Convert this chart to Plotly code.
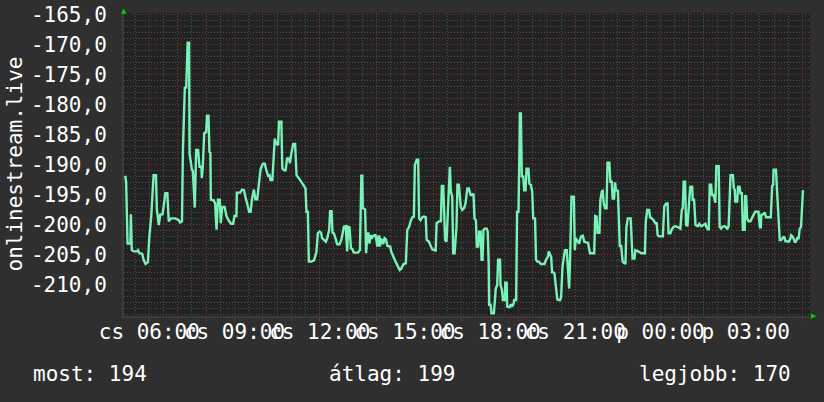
import plotly.graph_objects as go

# time of each sample, minutes after Thursday 00:00
minutes = [
    309, 311, 314, 320, 321, 323, 327, 334, 336, 339, 345, 348, 352, 357, 360, 364, 369, 374, 376, 380,
    383, 388, 394, 398, 401, 406, 415, 422, 425, 429, 431, 435, 438, 441, 444, 445, 450, 452, 456, 459,
    463, 466, 470, 471, 473, 476, 480, 482, 485, 487, 489, 490, 496, 499, 502, 505, 509, 511, 514, 519,
    523, 528, 533, 537, 540, 544, 545, 552, 556, 560, 563, 567, 571, 574, 577, 581, 584, 588, 591, 595,
    600, 604, 607, 611, 614, 616, 620, 622, 625, 628, 632, 634, 639, 641, 645, 648, 651, 655, 657, 660,
    664, 668, 671, 676, 681, 686, 690, 692, 695, 697, 702, 708, 711, 713, 716, 720, 723, 725, 729, 733,
    736, 740, 742, 745, 747, 750, 754, 757, 762, 766, 771, 775, 778, 780, 783, 786, 789, 792, 797, 801,
    805, 807, 808, 810, 811, 816, 818, 821, 823, 825, 828, 831, 835, 838, 842, 844, 846, 847, 850, 852,
    854, 857, 860, 863, 869, 871, 875, 878, 882, 885, 889, 893, 897, 902, 905, 909, 912, 916, 919, 921,
    925, 928, 930, 933, 937, 940, 944, 946, 951, 955, 958, 963, 965, 967, 972, 976, 978, 981, 983, 985,
    988, 992, 995, 997, 1000, 1002, 1005, 1009, 1011, 1014, 1018, 1021, 1025, 1028, 1032, 1035, 1039, 1042, 1045, 1047,
    1050, 1052, 1055, 1057, 1060, 1062, 1064, 1066, 1069, 1073, 1075, 1077, 1078, 1081, 1083, 1088, 1090, 1092, 1095, 1097,
    1101, 1102, 1105, 1107, 1111, 1112, 1115, 1116, 1121, 1124, 1126, 1129, 1131, 1135, 1137, 1140, 1142, 1143, 1145, 1147,
    1150, 1152, 1155, 1157, 1161, 1163, 1166, 1169, 1171, 1175, 1177, 1180, 1183, 1187, 1191, 1195, 1198, 1202, 1204, 1207,
    1209, 1211, 1214, 1216, 1218, 1220, 1222, 1225, 1228, 1230, 1233, 1236, 1238, 1242, 1244, 1246, 1247, 1249, 1251, 1252,
    1257, 1259, 1261, 1265, 1268, 1272, 1276, 1279, 1284, 1287, 1291, 1300, 1302, 1305, 1307, 1311, 1313, 1316, 1318, 1320,
    1323, 1326, 1328, 1332, 1334, 1337, 1339, 1342, 1344, 1346, 1350, 1352, 1354, 1357, 1360, 1364, 1366, 1368, 1371, 1377,
    1379, 1381, 1385, 1387, 1393, 1400, 1407, 1409, 1412, 1416, 1418, 1422, 1426, 1429, 1432, 1434, 1437, 1445, 1448, 1452,
    1455, 1457, 1461, 1464, 1468, 1471, 1478, 1482, 1485, 1487, 1489, 1492, 1494, 1497, 1501, 1503, 1507, 1508, 1511, 1514,
    1519, 1522, 1526, 1532, 1535, 1537, 1540, 1542, 1544, 1547, 1549, 1552, 1555, 1556, 1558, 1563, 1565, 1568, 1571, 1575,
    1578, 1581, 1584, 1586, 1588, 1593, 1595, 1597, 1598, 1602, 1604, 1607, 1609, 1612, 1614, 1618, 1619, 1621, 1623, 1626,
    1630, 1633, 1637, 1640, 1647, 1650, 1652, 1653, 1657, 1660, 1663, 1673, 1676, 1678, 1679, 1684, 1686, 1688, 1690, 1692,
    1695, 1698, 1701, 1704, 1707, 1711, 1714, 1716, 1719, 1721, 1724, 1726, 1729, 1732, 1734, 1737, 1739, 1741,
]

values = [
    -191.8, -192.8, -203.1, -203.1, -198.2, -204.2, -204.4, -204.4, -204.2, -204.7, -204.8, -205.8, -206.5, -206.2, -202.0, -198.6, -191.7, -191.7, -197.5, -200.0,
    -198.3, -198.2, -194.7, -194.7, -199.4, -198.9, -198.9, -199.2, -199.6, -199.4, -187.5, -177.1, -177.1, -169.6, -169.6, -188.1, -190.8, -191.0, -197.1, -187.5,
    -187.5, -190.3, -190.3, -192.2, -190.3, -184.7, -184.5, -181.8, -181.8, -187.8, -188.0, -195.8, -195.9, -196.4, -200.8, -195.8, -195.8, -199.7, -197.0, -197.0,
    -198.5, -199.3, -199.8, -199.8, -198.5, -198.5, -194.6, -194.6, -194.1, -194.2, -195.3, -196.4, -197.8, -197.8, -195.6, -194.1, -195.7, -195.7, -193.6, -190.7,
    -189.8, -189.8, -190.8, -191.8, -191.7, -192.5, -192.5, -188.7, -185.6, -186.4, -186.7, -182.8, -182.8, -190.6, -190.9, -190.9, -188.9, -188.9, -189.7, -188.1,
    -186.5, -186.5, -191.7, -192.2, -192.8, -193.5, -193.9, -197.8, -197.8, -206.1, -206.1, -205.9, -204.7, -204.5, -201.4, -201.1, -201.3, -202.2, -202.5, -202.8,
    -202.2, -200.8, -197.7, -197.7, -201.3, -201.4, -202.4, -203.2, -203.2, -202.4, -200.3, -200.2, -204.4, -200.3, -200.4, -203.9, -204.0, -204.6, -204.6, -204.6,
    -204.2, -197.5, -191.8, -191.8, -197.2, -197.4, -204.7, -201.4, -201.4, -203.1, -201.7, -202.1, -201.7, -201.7, -203.6, -201.9, -201.9, -203.6, -202.4, -202.5,
    -203.2, -202.2, -202.4, -203.5, -203.6, -204.4, -205.3, -205.7, -206.4, -207.0, -207.5, -207.2, -206.5, -206.4, -200.8, -200.3, -199.4, -198.7, -198.6, -190.0,
    -189.1, -189.1, -198.9, -199.2, -198.7, -198.6, -198.7, -202.5, -202.8, -203.6, -204.1, -204.2, -204.4, -199.7, -199.4, -199.4, -193.5, -193.5, -199.7, -202.5,
    -202.8, -195.8, -190.3, -194.4, -195.3, -204.7, -204.7, -200.3, -193.3, -193.3, -197.0, -197.5, -197.2, -196.4, -193.9, -193.9, -195.0, -195.0, -194.8, -198.9,
    -199.2, -203.6, -203.6, -201.1, -201.1, -205.8, -205.8, -200.8, -200.6, -200.6, -201.1, -206.4, -213.3, -213.3, -214.7, -214.7, -212.5, -210.6, -210.0, -205.8,
    -205.8, -210.0, -210.8, -212.5, -212.5, -209.6, -209.6, -213.6, -213.7, -213.2, -213.6, -213.3, -212.5, -212.5, -197.8, -197.8, -187.5, -181.4, -181.4, -191.9,
    -191.9, -194.2, -194.2, -190.6, -190.6, -193.1, -193.3, -194.4, -198.9, -198.9, -205.8, -206.1, -206.1, -206.5, -206.5, -206.5, -205.8, -205.3, -204.4, -204.8,
    -205.3, -207.9, -207.9, -208.1, -209.7, -211.4, -212.4, -212.5, -212.5, -212.1, -206.9, -205.3, -204.2, -204.2, -207.5, -210.6, -210.6, -205.8, -200.3, -195.3,
    -195.3, -204.2, -202.2, -202.8, -203.1, -201.9, -201.8, -202.8, -203.0, -203.0, -204.7, -204.7, -198.5, -198.6, -201.3, -201.3, -195.8, -194.4, -194.3, -196.4,
    -197.2, -197.2, -189.6, -189.6, -192.8, -192.8, -195.6, -195.6, -192.9, -194.2, -194.3, -198.3, -203.5, -203.5, -206.1, -206.4, -206.4, -200.3, -198.9, -198.9,
    -203.6, -205.6, -205.6, -204.2, -204.4, -204.7, -204.7, -199.4, -197.5, -197.5, -198.7, -198.9, -199.3, -199.7, -199.7, -201.7, -201.9, -201.9, -196.9, -196.4,
    -196.4, -201.4, -201.4, -200.7, -200.3, -200.2, -200.4, -200.6, -197.5, -197.2, -192.8, -192.8, -200.0, -200.2, -195.6, -193.6, -193.6, -195.8, -195.8, -200.0,
    -200.2, -199.8, -200.2, -200.0, -199.8, -200.3, -200.7, -200.7, -193.3, -193.3, -195.0, -195.0, -196.3, -196.3, -190.2, -190.2, -200.3, -200.6, -200.3, -200.2,
    -200.3, -200.7, -200.2, -196.9, -191.7, -191.7, -193.9, -194.1, -196.1, -196.1, -193.6, -193.6, -194.7, -194.7, -200.8, -200.8, -195.2, -195.2, -198.9, -199.4,
    -199.4, -198.9, -198.2, -197.8, -197.8, -200.4, -200.4, -198.3, -198.2, -197.9, -198.7, -198.7, -193.5, -193.3, -190.8, -190.8, -193.9, -196.9, -197.8, -202.5,
    -202.5, -202.2, -201.9, -202.7, -202.7, -202.8, -202.4, -201.7, -201.9, -202.4, -202.8, -202.8, -202.2, -202.2, -200.7, -200.3, -198.1, -194.2,
]

# x tick labels (every 3 hours), hours after Thursday 00:00
tick_hours = [6, 9, 12, 15, 18, 21, 24, 27]
tick_labels = ["cs 06:00", "cs 09:00", "cs 12:00", "cs 15:00", "cs 18:00", "cs 21:00", "p 00:00", "p 03:00"]

# y tick values
y_ticks = [-165, -170, -175, -180, -185, -190, -195, -200, -205, -210]

series_name = "onlinestream.live"
summary_labels = ["most: 194", "átlag: 199", "legjobb: 170"]

FONT = "DejaVu Sans Mono"
TXT = "#ffffff"
MAJOR = "#7a3434"
MINOR = "#505050"

# hourly major grid with labels only every three hours
x_tickvals = [h * 60 for h in range(6, 30)]
lab = dict(zip(tick_hours, tick_labels))
x_ticktext = [lab.get(h, "") for h in range(6, 30)]

y_ticktext = [f"{v:.1f}".replace(".", ",") for v in y_ticks]

fig = go.Figure()
fig.add_trace(go.Scatter(
    x=minutes, y=values, mode="lines",
    line=dict(color="#78f2b6", width=2.4),
    name=series_name, showlegend=False, hoverinfo="skip",
))

fig.update_layout(
    width=824, height=402,
    margin=dict(l=124, r=14, t=13, b=86, autoexpand=False),
    paper_bgcolor="#2f2f2f",
    plot_bgcolor="#222222",
    font=dict(family=FONT, size=21, color=TXT),
    showlegend=False,
)

fig.update_xaxes(
    range=[306.5, 1755.9], automargin=False,
    tickmode="array", tickvals=x_tickvals, ticktext=x_ticktext,
    tickangle=0,
    showgrid=True, gridcolor=MAJOR, griddash="1px,2px", gridwidth=1,
    ticks="outside", ticklen=3, tickcolor="#7a3030",
    ticklabelstandoff=-7,
    minor=dict(dtick=30, tick0=0, showgrid=True, gridcolor=MINOR, griddash="1px,2px", gridwidth=1, ticks=""),
    showline=True, linecolor="#3c3c3c", linewidth=2,
    zeroline=False,
    tickfont=dict(family=FONT, size=21, color=TXT),
)

fig.update_yaxes(
    range=[-215.17, -164.67], automargin=False,
    tickmode="array", tickvals=y_ticks, ticktext=y_ticktext,
    showgrid=True, gridcolor=MAJOR, griddash="1px,2px", gridwidth=1,
    minor=dict(dtick=1, tick0=0, showgrid=True, gridcolor=MINOR, griddash="1px,2px", gridwidth=1),
    showline=True, linecolor="#3c3c3c", linewidth=2,
    zeroline=False,
    ticks="", ticklabelstandoff=11,
    tickfont=dict(family=FONT, size=21, color=TXT),
)

plot_w = 824 - 124 - 14
plot_h = 402 - 13 - 86

# y axis title
fig.add_annotation(
    text=series_name, textangle=-90, showarrow=False,
    xref="paper", yref="paper", x=(14 - 124) / plot_w, y=0.5,
    xanchor="center", yanchor="middle",
    font=dict(family=FONT, size=21, color=TXT),
)

# summary line under the chart
sum_y = -(374 - (13 + plot_h)) / plot_h
fig.add_annotation(text=summary_labels[0], showarrow=False, xref="paper", yref="paper",
                   x=(31 - 124) / plot_w, y=sum_y, xanchor="left", yanchor="middle",
                   font=dict(family=FONT, size=21, color=TXT))
fig.add_annotation(text=summary_labels[1], showarrow=False, xref="paper", yref="paper",
                   x=(327 - 124) / plot_w, y=sum_y, xanchor="left", yanchor="middle",
                   font=dict(family=FONT, size=21, color=TXT))
fig.add_annotation(text=summary_labels[2], showarrow=False, xref="paper", yref="paper",
                   x=(793 - 124) / plot_w, y=sum_y, xanchor="right", yanchor="middle",
                   font=dict(family=FONT, size=21, color=TXT))

# axis arrows
fig.add_annotation(text="▲", showarrow=False, xref="paper", yref="paper", x=0, y=1,
                   xanchor="center", yanchor="bottom", yshift=-4,
                   font=dict(family="DejaVu Sans", size=7, color="#00d000"))
fig.add_annotation(text="▶", showarrow=False, xref="paper", yref="paper", x=1, y=0,
                   xanchor="left", yanchor="middle", xshift=-1,
                   font=dict(family="DejaVu Sans", size=7, color="#00d000"))

fig.write_html(
    "out.html",
    config={"displayModeBar": False},
    post_script="document.body.style.margin='0';document.body.style.background='#2f2f2f';",
)
